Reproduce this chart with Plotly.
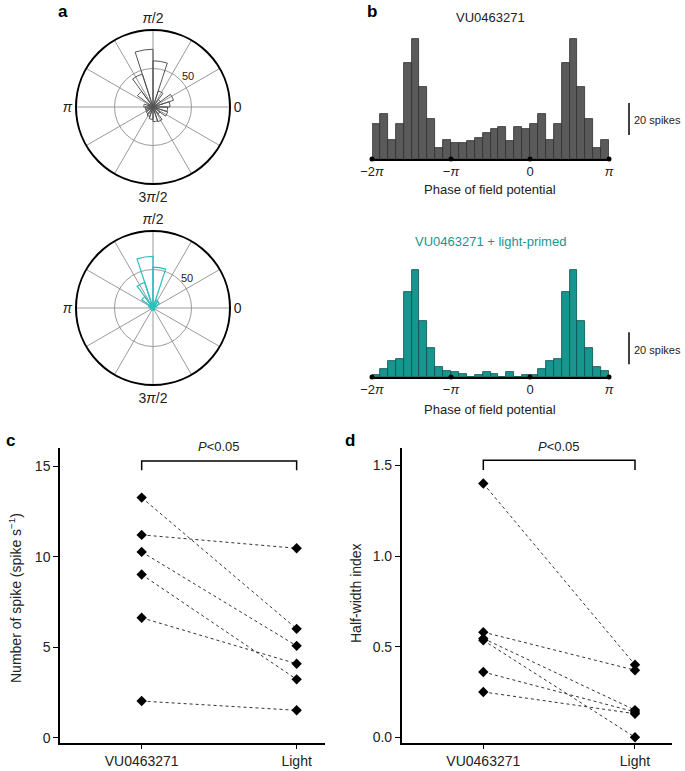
import numpy as np
import plotly.graph_objects as go

# phase histograms: 20 bins over one cycle (0..2pi), spike counts
counts_vu = [22, 28, 12, 22, 60, 75, 45, 25, 7, 12, 10, 10, 11, 13, 16, 19, 20, 11, 20, 19]
counts_light = [1, 5, 10, 11, 53, 67, 35, 18, 6, 4, 3, 2, 0, 1, 3, 2, 0, 3, 0, 1]

phase_ticks = [-2 * np.pi, -np.pi, 0, np.pi]
phase_ticktext = ["\u22122<i>\u03c0</i>", "\u2212<i>\u03c0</i>", "0", "<i>\u03c0</i>"]

# paired data (c, d)
groups = ["VU0463271", "Light"]
rate_vu = [13.26, 11.2, 10.26, 9.01, 6.62, 2.02]
rate_light = [6.01, 10.46, 5.07, 3.22, 4.08, 1.51]
hw_vu = [1.40, 0.58, 0.545, 0.535, 0.36, 0.25]
hw_light = [0.40, 0.37, 0.15, 0.0, 0.14, 0.13]

W, H = 685, 771
FONT = "Arial, Liberation Sans, sans-serif"
GRAY = "#5a5a5a"
TEAL = "#17968f"
CYAN = "#2cc0bd"
TXT = "#222"


def px(x):
    return x / W


def py(y):
    return 1 - y / H


def label(text, x, y, size=13, color=TXT, **kw):
    return dict(text=text, x=px(x), y=py(y), xref="paper", yref="paper", showarrow=False,
                xanchor=kw.pop("xanchor", "center"), yanchor="middle",
                font=dict(family=FONT, size=size, color=color), **kw)


fig = go.Figure()

# ---- a: rose plots
nbins = len(counts_vu)
bw = 360 / nbins
theta = [bw * (i + 0.5) for i in range(nbins)]
fig.add_trace(go.Barpolar(r=counts_vu, theta=theta, width=[bw] * nbins, subplot="polar",
                          marker=dict(color="rgba(0,0,0,0)", line=dict(color="#555555", width=1))))
fig.add_trace(go.Barpolar(r=counts_light, theta=theta, width=[bw] * nbins, subplot="polar2",
                          marker=dict(color="rgba(0,0,0,0)", line=dict(color=CYAN, width=1.2))))

ang_vals = list(range(0, 360, 30))
ang_text = ["" for _ in ang_vals]
ang_text[0], ang_text[3], ang_text[6], ang_text[9] = "0", "<i>\u03c0</i>/2", "<i>\u03c0</i>", "3<i>\u03c0</i>/2"
polar_common = dict(
    bgcolor="white",
    angularaxis=dict(rotation=0, direction="counterclockwise", tickvals=ang_vals, ticktext=ang_text,
                     showgrid=True, gridcolor="#9a9a9a", gridwidth=1, showline=True, linecolor="black",
                     linewidth=2, ticks="", tickfont=dict(family=FONT, size=14, color=TXT)),
    radialaxis=dict(range=[0, 100], tickvals=[50], showticklabels=False, showline=False, ticks="",
                    gridcolor="#9a9a9a", gridwidth=1),
)
fig.update_layout(
    polar=dict(domain=dict(x=[px(76), px(230)], y=[py(184), py(30)]), **polar_common),
    polar2=dict(domain=dict(x=[px(76), px(230)], y=[py(385), py(231)]), **polar_common),
)

# ---- b: linear histograms, -2pi..pi (1.5 cycles)
step = np.pi / 10
centers = [-2 * np.pi + step * (i + 0.5) for i in range(30)]
hist_vu = [counts_vu[i % nbins] for i in range(30)]
hist_light = [counts_light[i % nbins] for i in range(30)]

fig.add_trace(go.Bar(x=centers, y=hist_vu, width=step, xaxis="x", yaxis="y",
                     marker=dict(color=GRAY, line=dict(color="#2f2f2f", width=0.8))))
fig.add_trace(go.Bar(x=centers, y=hist_light, width=step, xaxis="x2", yaxis="y2",
                     marker=dict(color=TEAL, line=dict(color="#0b4f4b", width=0.8))))
for xa, ya in [("x", "y"), ("x2", "y2")]:
    fig.add_trace(go.Scatter(x=phase_ticks, y=[0] * 4, xaxis=xa, yaxis=ya, mode="markers",
                             marker=dict(color="black", size=5), cliponaxis=False))

hist_x = dict(range=[-2 * np.pi, np.pi], showline=True, linecolor="black", linewidth=1.5,
              showgrid=False, zeroline=False, ticks="", tickvals=phase_ticks, ticktext=phase_ticktext,
              tickfont=dict(family=FONT, size=13, color=TXT), automargin=False)
hist_y = dict(range=[0, 80], visible=False, automargin=False)
fig.update_layout(
    xaxis=dict(domain=[px(372), px(609)], anchor="y", **hist_x),
    yaxis=dict(domain=[py(159), py(31)], anchor="x", **hist_y),
    xaxis2=dict(domain=[px(372), px(609)], anchor="y2", **hist_x),
    yaxis2=dict(domain=[py(377), py(249)], anchor="x2", **hist_y),
)

# ---- c, d: paired plots
for a, b in zip(rate_vu, rate_light):
    fig.add_trace(go.Scatter(x=[0, 1], y=[a, b], xaxis="x3", yaxis="y3", mode="lines+markers",
                             line=dict(color="#333", width=1, dash="dot"),
                             marker=dict(symbol="diamond", size=8, color="black")))
for a, b in zip(hw_vu, hw_light):
    fig.add_trace(go.Scatter(x=[0, 1], y=[a, b], xaxis="x4", yaxis="y4", mode="lines+markers",
                             line=dict(color="#333", width=1, dash="dot"),
                             marker=dict(symbol="diamond", size=8, color="black")))

tick_font = dict(family=FONT, size=14, color=TXT)
pair_x = dict(tickvals=[0, 1], ticktext=groups, showline=True, linecolor="black", linewidth=1.5,
              ticks="outside", ticklen=5, tickwidth=1.2, tickcolor="black", showgrid=False,
              zeroline=False, tickfont=tick_font, automargin=False)
pair_y = dict(showline=True, linecolor="black", linewidth=1.5, ticks="outside", ticklen=5,
              tickwidth=1.2, tickcolor="black", showgrid=False, zeroline=False, tickfont=tick_font,
              automargin=False)
fig.update_layout(
    xaxis3=dict(domain=[px(60), px(325)], range=[-0.527, 1.183], anchor="y3", **pair_x),
    yaxis3=dict(domain=[py(742.7), py(448)], range=[-0.28, 16.0], anchor="x3", tickvals=[0, 5, 10, 15],
                **pair_y),
    xaxis4=dict(domain=[px(401.7), px(671.7)], range=[-0.538, 1.242], anchor="y4", **pair_x),
    yaxis4=dict(domain=[py(742.7), py(448)], range=[-0.03, 1.596], anchor="x4",
                tickvals=[0, 0.5, 1.0, 1.5], tickformat=".1f", **pair_y),
)

# significance brackets and 20-spike scale bars
shapes = [
    dict(type="path", xref="x3", yref="y3", path="M 0,14.77 L 0,15.28 L 1,15.28 L 1,14.77",
         line=dict(color="black", width=1.5)),
    dict(type="path", xref="x4", yref="y4", path="M 0,1.475 L 0,1.528 L 1,1.528 L 1,1.475",
         line=dict(color="black", width=1.5)),
    dict(type="line", xref="paper", yref="y", x0=px(629), x1=px(629), y0=15, y1=35,
         line=dict(color="black", width=1.5)),
    dict(type="line", xref="paper", yref="y2", x0=px(629), x1=px(629), y0=8, y1=28,
         line=dict(color="black", width=1.5)),
]

annotations = [
    label("<b>a</b>", 63, 12, size=17, color="black"),
    label("<b>b</b>", 372, 12, size=17, color="black"),
    label("<b>c</b>", 10, 440, size=17, color="black"),
    label("<b>d</b>", 350, 440, size=17, color="black"),
    label("VU0463271", 490, 17),
    label("VU0463271 + light-primed", 490, 241, color=TEAL),
    label("Phase of field potential", 490, 189),
    label("Phase of field potential", 490, 409),
    label("20 spikes", 632, 120, size=11, xanchor="left"),
    label("20 spikes", 632, 350, size=11, xanchor="left"),
    label("50", 188, 76, size=11),
    label("50", 187, 278, size=11),
    label("<i>P</i>&lt;0.05", 219, 446),
    label("<i>P</i>&lt;0.05", 559, 446),
    label("Number of spike (spike s<sup>\u22121</sup>)", 15, 598, size=14, textangle=-90),
    label("Half-width index", 356, 593, size=14, textangle=-90),
]

fig.update_layout(
    width=W, height=H, margin=dict(l=0, r=0, t=0, b=0),
    paper_bgcolor="white", plot_bgcolor="white", showlegend=False,
    bargap=0, shapes=shapes, annotations=annotations,
)

# drop the browser's default body margin so the figure sits at the page origin
fig.write_html("out.html", config={"displayModeBar": False},
               post_script="document.body.style.margin = '0';")
